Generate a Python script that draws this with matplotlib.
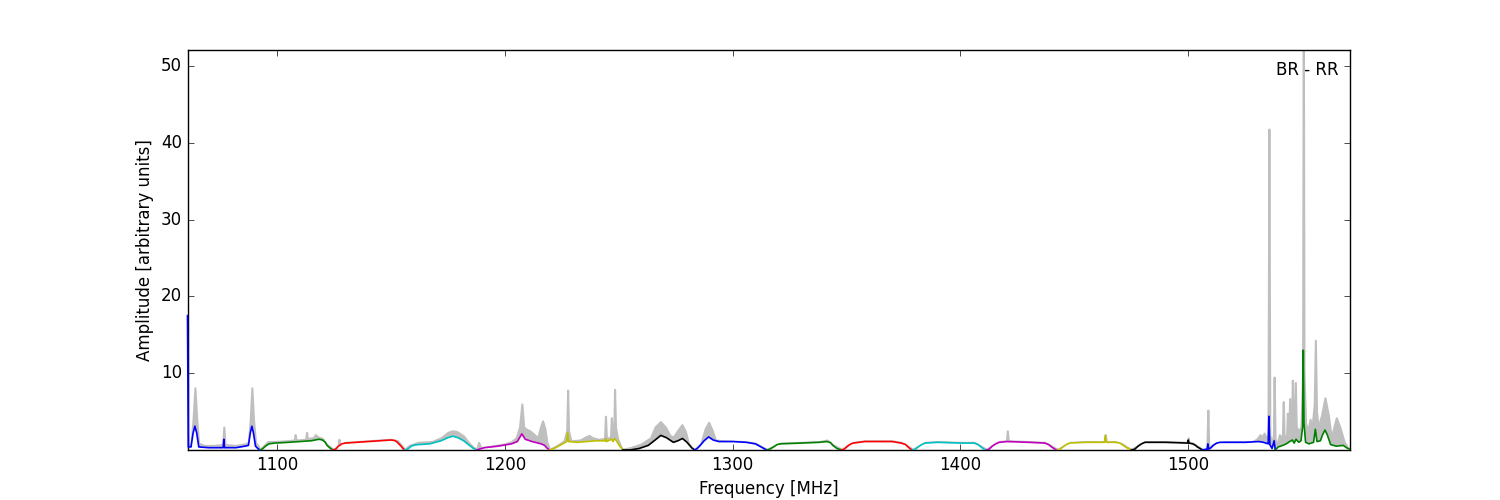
import matplotlib
matplotlib.use("Agg")
import matplotlib.pyplot as plt
import numpy as np

plt.style.use('classic')

# band edges [MHz] and the line colour of each band
band_edges = [1060.75, 1092.5, 1124.6, 1156.1, 1187.7, 1219.7, 1251.8, 1283.3,
              1315.0, 1347.8, 1379.0, 1411.4, 1442.6, 1475.0, 1506.3, 1538.2, 1571.0]
band_colors = ['b', 'g', 'r', 'c', 'm', 'y', 'k']

# bandpass (coloured line)
freq_line = [1060.75, 1061.1, 1062.3, 1063.2, 1064.0, 1064.8, 1065.7, 1070, 1076.4, 1076.7, 1077.0, 1082, 1086, 1087.5, 1088.3, 1089.0, 1089.7, 1090.6, 1091.6,
             1092.5, 1093.5, 1095, 1096.5, 1099, 1105, 1110, 1115, 1118.5, 1120, 1121.2, 1122, 1123.5,
             1124.6, 1125.8, 1127, 1128.5, 1130, 1140, 1150, 1151.5, 1152.5, 1153.5, 1154.5, 1155.3,
             1156.1, 1157.3, 1159, 1160.5, 1162, 1167, 1172, 1175, 1177.2, 1179.5, 1182, 1184.5, 1186.3,
             1187.7, 1191, 1197, 1203, 1205.5, 1207.5, 1209, 1212, 1216, 1217.5, 1218.7,
             1219.7, 1221, 1223, 1226, 1227.2, 1227.6, 1228.0, 1232, 1236, 1240, 1244, 1244.3, 1244.6, 1246.9, 1247.5, 1248.2, 1249, 1250.5,
             1251.8, 1255, 1259, 1263, 1266, 1268.5, 1271, 1274, 1276, 1278, 1280, 1282,
             1283.3, 1284.3, 1285.5, 1287.5, 1289.5, 1291.5, 1294, 1300, 1306, 1310, 1312.5, 1314,
             1315.0, 1316.3, 1318, 1319.5, 1321, 1330, 1338, 1341.5, 1343, 1344, 1345.8,
             1347.8, 1349, 1350.5, 1352, 1353, 1358, 1370, 1374, 1376, 1377, 1378.2,
             1379.0, 1380.2, 1381.5, 1383, 1384.5, 1390, 1400, 1406, 1407.8, 1409, 1410.4,
             1411.4, 1412.6, 1414, 1415.5, 1417, 1420.5, 1430, 1437, 1438.8, 1440, 1441.5,
             1442.6, 1443.8, 1445, 1446.5, 1448, 1455, 1463.2, 1463.6, 1464.0, 1468, 1470, 1471, 1473,
             1475.0, 1476.5, 1478, 1479.5, 1481, 1490, 1499.8, 1500.0, 1500.3, 1502, 1503.2, 1504,
             1506.3, 1508.3, 1508.6, 1509.0, 1510, 1511, 1512.5, 1514, 1525, 1531, 1533, 1535.1, 1535.4, 1535.8, 1536.8, 1537.7,
             1538.2, 1539.5, 1541.5, 1543, 1544.5, 1545.7, 1546.5, 1547.3, 1548.5, 1549.5, 1550.2, 1550.5, 1550.8, 1551.5, 1553,
             1555, 1555.8, 1556.5, 1558, 1559, 1560, 1561, 1562.5, 1565, 1568, 1570, 1571.0]
amp_line = [17.5, 0.4, 0.4, 2.2, 3.1, 2.2, 0.4, 0.3, 0.3, 1.4, 0.3, 0.3, 0.5, 0.6, 2.2, 3.1, 2.2, 0.5, 0.2,
            0.0, 0.1, 0.5, 0.8, 0.9, 1.0, 1.1, 1.2, 1.4, 1.3, 1.0, 0.6, 0.2,
            0.0, 0.1, 0.5, 0.8, 0.9, 1.1, 1.3, 1.25, 1.1, 0.8, 0.5, 0.2,
            0.0, 0.1, 0.5, 0.65, 0.7, 0.8, 1.2, 1.6, 1.8, 1.6, 1.2, 0.6, 0.2,
            0.0, 0.3, 0.5, 0.8, 1.1, 2.1, 1.4, 1.1, 0.8, 0.6, 0.2,
            0.0, 0.1, 0.4, 0.9, 1.1, 2.3, 1.1, 1.0, 1.1, 1.2, 1.2, 1.5, 1.1, 1.4, 1.1, 1.5, 1.2, 0.5,
            0.0, 0.0, 0.2, 0.6, 1.3, 1.9, 1.6, 1.0, 1.2, 1.5, 1.0, 0.3,
            0.0, 0.15, 0.5, 1.2, 1.7, 1.3, 1.1, 1.1, 1.0, 0.8, 0.4, 0.15,
            0.0, 0.1, 0.4, 0.7, 0.8, 0.9, 1.0, 1.1, 0.95, 0.6, 0.2,
            0.0, 0.1, 0.5, 0.8, 0.9, 1.1, 1.1, 0.9, 0.7, 0.4, 0.1,
            0.0, 0.1, 0.4, 0.7, 0.9, 1.0, 0.9, 0.9, 0.7, 0.4, 0.1,
            0.0, 0.1, 0.5, 0.8, 1.0, 1.1, 1.0, 0.9, 0.7, 0.4, 0.1,
            0.0, 0.1, 0.4, 0.7, 0.9, 1.0, 1.0, 1.9, 1.0, 1.0, 0.9, 0.7, 0.3,
            0.0, 0.1, 0.5, 0.8, 1.0, 1.0, 0.9, 1.3, 0.9, 0.8, 0.6, 0.4,
            0.0, 0.1, 0.8, 0.1, 0.3, 0.6, 0.9, 1.0, 1.0, 1.1, 1.0, 0.8, 4.4, 0.7, 0.2, 1.2,
            0.0, 0.4, 0.6, 0.8, 1.1, 1.3, 0.9, 1.4, 1.0, 1.2, 3.0, 13.0, 3.5, 1.0, 0.8,
            1.0, 2.7, 1.1, 1.2, 2.0, 2.6, 2.0, 0.7, 0.5, 0.6, 0.2, 0.1]

# upper envelope (grey)
freq_env = [1060.75, 1061.0, 1062.3, 1063.2, 1064.0, 1064.8, 1065.6, 1068, 1072, 1076.2, 1076.7, 1077.2, 1082, 1086, 1087.5, 1088.3, 1089.0, 1089.7, 1090.6, 1091.8,
            1092.5, 1094, 1096, 1099, 1104, 1107.6, 1108, 1108.4, 1112.6, 1113, 1113.4, 1116, 1116.8, 1118, 1120, 1122, 1123.5,
            1124.6, 1126.8, 1127.2, 1127.6, 1130, 1140, 1150, 1153, 1155,
            1156.1, 1158, 1162, 1168, 1172, 1175, 1177, 1179, 1182, 1184, 1186,
            1187.7, 1188.5, 1189.5, 1192, 1200, 1203, 1205, 1206.5, 1207.5, 1208.3, 1209.5, 1211, 1213, 1214.5, 1215.5, 1216.6, 1217.6, 1218.5,
            1219.7, 1223, 1226, 1227.2, 1227.6, 1228.0, 1229, 1233, 1235.5, 1237, 1238.5, 1241, 1243.8, 1244.2, 1244.6, 1246.4, 1246.8, 1247.2, 1247.9, 1248.2, 1248.6, 1249.5, 1251,
            1251.8, 1255, 1260, 1264, 1266, 1268.3, 1270.5, 1272.5, 1274, 1276, 1277.8, 1279.3, 1280.5, 1282,
            1283.3, 1286, 1288, 1289.5, 1291, 1292.5, 1296, 1305, 1310, 1313,
            1315.0, 1318, 1321, 1330, 1338, 1341.5, 1344,
            1347.8, 1350.5, 1353, 1358, 1370, 1374, 1377,
            1379.0, 1381.5, 1384.5, 1390, 1400, 1406, 1409,
            1411.4, 1414, 1417, 1420.2, 1420.6, 1421.0, 1430, 1437, 1440,
            1442.6, 1445, 1448, 1455, 1463.2, 1463.6, 1464.0, 1468, 1471, 1473,
            1475.0, 1478, 1481, 1490, 1499.8, 1500.0, 1500.3, 1502, 1504,
            1506.3, 1508.2, 1508.6, 1509.0, 1512, 1516, 1528, 1530, 1531.5, 1532.5, 1533.3, 1534.5, 1535.0, 1535.4, 1535.8, 1536.7, 1537.4, 1537.7, 1538.1,
            1538.8, 1540, 1541.3, 1541.7, 1542.1, 1543.2, 1543.5, 1543.9, 1544.2, 1544.5, 1544.9, 1545.4, 1545.7, 1546.1, 1546.7, 1547.0, 1547.4,
            1548.5, 1549.5, 1550.2, 1550.5, 1550.8, 1551.5, 1552.5, 1553.5, 1554.2, 1555.3, 1555.8, 1556.3, 1557, 1558.5, 1560.0, 1561.5,
            1562.8, 1563.5, 1565.0, 1566.5, 1568.5, 1570, 1571.0]
amp_env = [17.5, 0.6, 0.8, 4.0, 8.1, 4.0, 0.9, 0.6, 0.6, 0.7, 3.0, 0.7, 0.6, 0.8, 1.0, 4.0, 8.1, 4.0, 1.0, 0.5,
           0.1, 0.5, 1.1, 1.1, 1.2, 1.3, 2.0, 1.3, 1.4, 2.3, 1.5, 1.6, 2.0, 1.7, 1.5, 0.7, 0.4,
           0.1, 0.5, 1.4, 0.6, 1.0, 1.2, 1.4, 1.2, 0.5,
           0.1, 0.6, 1.0, 1.1, 1.6, 2.3, 2.5, 2.4, 1.8, 1.0, 0.4,
           0.1, 1.0, 0.3, 0.4, 0.8, 1.1, 1.6, 3.0, 6.0, 3.0, 2.7, 2.5, 2.0, 1.6, 2.8, 3.8, 2.8, 1.0,
           0.1, 0.6, 1.2, 2.5, 7.8, 2.5, 1.2, 1.3, 1.7, 1.9, 1.6, 1.4, 1.5, 4.4, 1.6, 1.6, 4.2, 2.0, 3.0, 7.9, 3.0, 1.5, 0.4,
           0.1, 0.3, 0.8, 1.6, 3.0, 3.7, 3.0, 1.9, 1.7, 2.6, 3.3, 2.4, 1.0, 0.3,
           0.1, 0.8, 2.8, 3.6, 2.6, 1.3, 1.2, 1.1, 0.9, 0.4,
           0.1, 0.5, 0.9, 1.0, 1.1, 1.3, 0.7,
           0.1, 0.6, 1.0, 1.2, 1.2, 1.0, 0.5,
           0.1, 0.5, 1.0, 1.1, 1.0, 1.0, 0.5,
           0.1, 0.6, 1.1, 1.2, 2.5, 1.2, 1.1, 1.0, 0.5,
           0.1, 0.5, 1.0, 1.1, 1.1, 2.0, 1.1, 1.1, 0.8, 0.4,
           0.1, 0.6, 1.1, 1.1, 1.0, 1.6, 1.0, 0.9, 0.5,
           0.1, 0.3, 5.2, 0.4, 0.9, 1.1, 1.1, 1.4, 2.0, 1.7, 2.2, 1.5, 2.0, 41.8, 2.0, 0.8, 2.0, 9.5, 1.5,
           0.5, 2.0, 1.5, 6.3, 1.5, 2.0, 4.8, 2.0, 3.0, 6.7, 3.0, 4.0, 9.1, 4.0, 4.5, 8.8, 3.0,
           2.5, 3.0, 10.0, 60.0, 10.0, 3.5, 2.5, 4.0, 2.5, 6.0, 14.3, 5.0, 3.0, 4.5, 6.8, 4.5,
           1.5, 2.5, 4.2, 3.0, 1.0, 0.3, 0.2]

freq_line = np.array(freq_line)
amp_line = np.array(amp_line)

fig = plt.figure(figsize=(15, 5), dpi=100)
ax = fig.add_subplot(111)

# grey envelope, then blank out what lies below the bandpass
ax.fill_between(freq_env, 0, amp_env, facecolor='0.75', edgecolor='0.75', linewidth=1.5)
ax.fill_between(freq_line, 0, amp_line, facecolor='white', edgecolor='none', linewidth=0)

for i in range(len(band_edges) - 1):
    lo, hi = band_edges[i], band_edges[i + 1]
    sel = (freq_line >= lo) & (freq_line <= hi)
    ax.plot(freq_line[sel], amp_line[sel], color=band_colors[i % len(band_colors)],
            lw=1.2, zorder=3, clip_on=(i != 0))

ax.text(0.99, 0.95, 'BR - RR', transform=ax.transAxes, ha='right', va='center', fontsize=12)

ax.set_xlim(1060.75, 1571.0)
ax.set_ylim(0, 52.1)
ax.set_xticks([1100, 1200, 1300, 1400, 1500])
ax.set_yticks([10, 20, 30, 40, 50])
ax.set_xlabel('Frequency [MHz]')
ax.set_ylabel('Amplitude [arbitrary units]')

fig.savefig('out.png', dpi=100, facecolor='white')
